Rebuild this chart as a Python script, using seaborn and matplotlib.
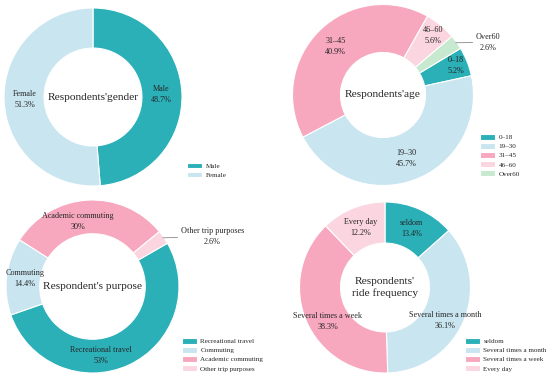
import matplotlib.pyplot as plt
import numpy as np
import seaborn as sns

# data
gender_labels = ["Male", "Female"]
gender_pct = [48.7, 51.3]

age_labels = ["0–18", "19–30", "31–45", "46–60", "Over60"]
age_pct = [5.2, 45.7, 40.9, 5.6, 2.6]

purpose_labels = ["Recreational travel", "Commuting", "Academic commuting", "Other trip purposes"]
purpose_pct = [53, 14.4, 30, 2.6]

freq_labels = ["seldom", "Several times a month", "Several times a week", "Every day"]
freq_pct = [13.4, 36.1, 38.3, 12.2]

sns.set_theme(style="white")
plt.rcParams["font.family"] = ["Liberation Serif", "DejaVu Serif"]

TEAL, LBLUE, PINK, LPINK, GREEN = sns.color_palette(
    ["#2bb0b8", "#c9e5f0", "#f7a8be", "#fbd5e0", "#c6e9cf"])

W, H = 550, 379
fig = plt.figure(figsize=(W / 100, H / 100), dpi=100)

LAB_FS = 5.9
LEG_FS = 5.1


def donut(title, labels, values, colors, cx, cy, R, hole, start,
          lab_r=0.77, moves=None, leaders=None, leg_xy=(0, 0), title_size=8.2):
    moves = moves or {}
    leaders = leaders or {}
    ax = fig.add_axes([(cx - R) / W, (H - cy - R) / H, 2 * R / W, 2 * R / H])
    wedges, _ = ax.pie(values, colors=colors, startangle=start, counterclock=False,
                       radius=1, wedgeprops=dict(width=1 - hole, edgecolor="white", linewidth=0.8))
    ax.set_xlim(-1, 1)
    ax.set_ylim(-1, 1)
    for w, lab, v in zip(wedges, labels, values):
        mid = (w.theta1 + w.theta2) / 2
        txt = f"{lab}\n{v:g}%"
        if lab in leaders:
            ang, r = leaders[lab]
            a0 = np.deg2rad(mid)
            a1 = np.deg2rad(ang)
            ax.annotate(txt, xy=(0.99 * np.cos(a0), 0.99 * np.sin(a0)),
                        xytext=(r * np.cos(a1), r * np.sin(a1)),
                        ha="center", va="center", fontsize=LAB_FS, linespacing=1.5,
                        arrowprops=dict(arrowstyle="-", color="#888888", lw=0.6,
                                        shrinkA=0, shrinkB=0))
            continue
        ang, r = moves.get(lab, (mid, lab_r))
        a = np.deg2rad(ang)
        ax.text(r * np.cos(a), r * np.sin(a), txt, ha="center", va="center",
                fontsize=LAB_FS, linespacing=1.5)
    ax.text(0, 0, title, ha="center", va="center", fontsize=title_size, linespacing=1.3)
    ax.legend(wedges, labels, loc="upper left",
              bbox_to_anchor=(leg_xy[0] / W, 1 - leg_xy[1] / H),
              bbox_transform=fig.transFigure, frameon=False, fontsize=LEG_FS,
              handlelength=2.1, handleheight=0.85, handletextpad=0.5,
              labelspacing=0.4, borderpad=0, borderaxespad=0)
    return ax


donut("Respondents'gender", gender_labels, gender_pct, [TEAL, LBLUE],
      93, 97, 89, 0.55, 90, lab_r=0.77, leg_xy=(187, 162.5))

donut("Respondents'age", age_labels, age_pct, [TEAL, LBLUE, PINK, LPINK, GREEN],
      383, 95, 90.5, 0.47, 31, lab_r=0.75,
      moves={"0–18": (22, 0.87), "46–60": (50, 0.86)},
      leaders={"Over60": (26.6, 1.30)}, leg_xy=(480, 134))

donut("Respondent's purpose", purpose_labels, purpose_pct, [TEAL, LBLUE, PINK, LPINK],
      92.5, 286.5, 86.5, 0.61, 30, lab_r=0.79,
      moves={"Academic commuting": (103, 0.77), "Recreational travel": (-83, 0.80)},
      leaders={"Other trip purposes": (22.5, 1.5)}, leg_xy=(182, 338))

donut("Respondents'\nride frequency", freq_labels, freq_pct, [TEAL, LBLUE, PINK, LPINK],
      385, 287.5, 85.5, 0.52, 90, lab_r=0.76,
      moves={"Several times a month": (-29, 0.80), "Several times a week": (211, 0.78)},
      leg_xy=(465, 338))

fig.savefig("out.png", dpi=100)
